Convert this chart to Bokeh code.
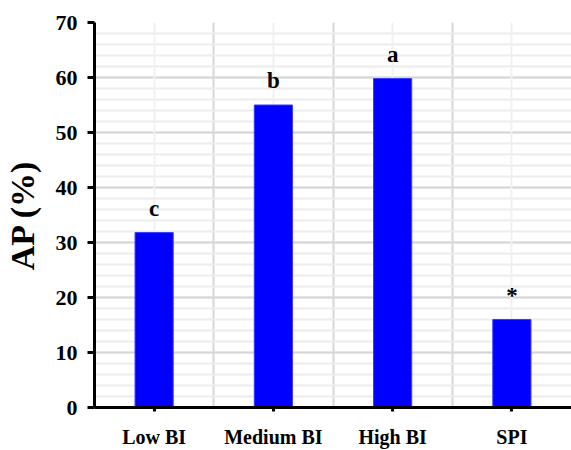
import numpy as np
from bokeh.plotting import figure
from bokeh.models import FixedTicker, SingleIntervalTicker, Grid, ColumnDataSource, Range1d
from bokeh.core.properties import value
from bokeh.embed import file_html
from bokeh.resources import INLINE

categories = ["Low BI", "Medium BI", "High BI", "SPI"]
ap_values = [31.8, 55.0, 59.8, 16.0]
letters = ["c", "b", "a", "*"]

n = len(categories)
xc = np.arange(n) + 0.5
src = ColumnDataSource(dict(x=xc, top=ap_values, lab=letters,
                            ly=[v + 4.4 for v in ap_values]))

FONT = "Liberation Serif"
p = figure(width=571, height=450, output_backend="svg", toolbar_location=None,
           x_range=Range1d(0, n), y_range=Range1d(0, 70),
           min_border_left=93, min_border_top=22, min_border_bottom=43, min_border_right=0)
p.outline_line_color = None

p.vbar(x="x", top="top", width=0.32, bottom=0, source=src,
       fill_color="#0000ff", line_color="#3a3aff", line_width=1)
p.text(x="x", y="ly", text="lab", source=src, text_align="center", text_baseline="alphabetic",
       text_font=value(FONT), text_font_style="bold", text_font_size="23px", text_color="black")

# axes
p.xaxis.ticker = FixedTicker(ticks=list(xc))
p.xaxis.major_label_overrides = {float(x): c for x, c in zip(xc, categories)}
p.yaxis.ticker = SingleIntervalTicker(interval=10, num_minor_ticks=5)
for ax in (p.xaxis[0], p.yaxis[0]):
    ax.axis_line_width = 3
    ax.axis_line_color = "black"
    ax.major_label_text_font = FONT
    ax.major_label_text_font_style = "bold"
    ax.major_label_text_font_size = "20px"
    ax.major_label_text_color = "black"
    ax.minor_tick_line_color = None
p.yaxis.major_label_text_font_size = "22px"
p.yaxis.major_tick_out = 7
p.yaxis.major_tick_in = 0
p.yaxis.major_tick_line_width = 3
p.yaxis.major_label_standoff = 10
p.xaxis.major_tick_out = 4
p.xaxis.major_tick_in = 0
p.xaxis.major_tick_line_width = 3
p.xaxis.major_label_standoff = 14
p.yaxis.axis_label = "AP (%)"
p.yaxis.axis_label_text_font = FONT
p.yaxis.axis_label_text_font_style = "bold"
p.yaxis.axis_label_text_font_size = "34px"
p.yaxis.axis_label_text_color = "black"
p.yaxis.axis_label_standoff = 12

# grids
p.ygrid.grid_line_color = "#d6d6d6"
p.ygrid.grid_line_width = 2
p.ygrid.minor_grid_line_color = "#ececec"
p.ygrid.minor_grid_line_width = 2
p.xgrid.ticker = FixedTicker(ticks=list(range(1, n + 1)))
p.xgrid.grid_line_color = "#d6d6d6"
p.xgrid.grid_line_width = 2
p.add_layout(Grid(dimension=0, ticker=FixedTicker(ticks=list(xc)),
                  grid_line_color="#f0f0f0", grid_line_width=2), "center")

open("out.html", "w").write(file_html(p, INLINE))
